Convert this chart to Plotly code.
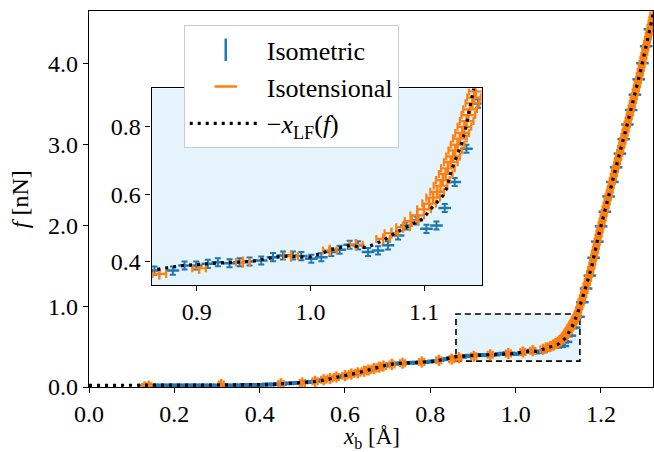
import plotly.graph_objects as go

# ---------------- data ----------------
# Isometric: controlled extension x_b [Å], measured force f [nN]
iso_x = [0.131, 0.140, 0.149, 0.157, 0.166, 0.175, 0.184, 0.193, 0.201, 0.210,
         0.219, 0.228, 0.237, 0.245, 0.254, 0.263, 0.272, 0.281, 0.289, 0.298,
         0.307, 0.316, 0.325, 0.333, 0.342, 0.351, 0.360, 0.369, 0.377, 0.386,
         0.395, 0.404, 0.413, 0.421, 0.430, 0.439, 0.448, 0.457, 0.465, 0.474,
         0.483, 0.492, 0.501, 0.509, 0.518, 0.527, 0.536, 0.545, 0.553, 0.562,
         0.571, 0.580, 0.589, 0.597, 0.606, 0.615, 0.624, 0.633, 0.641, 0.650,
         0.659, 0.668, 0.677, 0.685, 0.694, 0.703, 0.712, 0.721, 0.729, 0.738,
         0.747, 0.756, 0.765, 0.773, 0.782, 0.791, 0.800, 0.809, 0.817, 0.826,
         0.835, 0.844, 0.853,
         0.8627, 0.8789, 0.8892, 0.8995, 0.9097, 0.9185, 0.9288, 0.9376, 0.9464,
         0.9567, 0.9670, 0.9758, 0.9846, 0.9920, 1.0008, 1.0096, 1.0184, 1.0257,
         1.0345, 1.0419, 1.0507, 1.0595, 1.0683, 1.0771, 1.0845, 1.0933, 1.1021,
         1.1109, 1.1182, 1.1270, 1.1373, 1.1476,
         1.1564, 1.1652, 1.1740, 1.1828, 1.1916, 1.2004, 1.2092, 1.2180, 1.2268,
         1.2356, 1.2444, 1.2532, 1.2620, 1.2708, 1.2796, 1.2884, 1.2972, 1.3060,
         1.3148]
iso_f = [0.020, 0.020, 0.020, 0.020, 0.020, 0.020, 0.020, 0.020, 0.020, 0.020,
         0.020, 0.020, 0.020, 0.020, 0.020, 0.020, 0.020, 0.020, 0.020, 0.020,
         0.020, 0.020, 0.020, 0.020, 0.020, 0.020, 0.025, 0.025, 0.025, 0.025,
         0.025, 0.025, 0.030, 0.030, 0.030, 0.035, 0.040, 0.040, 0.045, 0.045,
         0.050, 0.050, 0.055, 0.058, 0.062, 0.068, 0.075, 0.082, 0.090, 0.100,
         0.110, 0.120, 0.130, 0.140, 0.150, 0.160, 0.170, 0.180, 0.190, 0.205,
         0.215, 0.230, 0.245, 0.255, 0.265, 0.275, 0.285, 0.290, 0.292, 0.295,
         0.297, 0.300, 0.300, 0.303, 0.305, 0.310, 0.315, 0.320, 0.325, 0.335,
         0.345, 0.355, 0.365,
         0.373, 0.373, 0.388, 0.388, 0.393, 0.398, 0.395, 0.398, 0.400,
         0.403, 0.413, 0.418, 0.418, 0.416, 0.408, 0.413, 0.428, 0.435,
         0.450, 0.448, 0.428, 0.433, 0.448, 0.477, 0.507, 0.522, 0.497,
         0.507, 0.559, 0.636, 0.735, 0.869,
         1.05, 1.22, 1.38, 1.60, 1.80, 1.99, 2.17, 2.36, 2.54,
         2.72, 2.89, 3.07, 3.25, 3.43, 3.62, 3.81, 4.01, 4.22,
         4.43]
iso_ferr = 0.012

# Isotensional: controlled force f [nN], measured extension x_b [Å]
tens_f = [0.000, 0.010, 0.030, 0.040, 0.050, 0.070, 0.090, 0.105, 0.125, 0.140,
          0.160, 0.175, 0.195, 0.210, 0.230, 0.245, 0.260, 0.280, 0.295, 0.310,
          0.330, 0.345,
          0.363, 0.380, 0.398, 0.416, 0.433, 0.450, 0.467, 0.484, 0.502, 0.520,
          0.537, 0.555, 0.572, 0.590, 0.607, 0.625, 0.642, 0.660, 0.677, 0.695,
          0.712, 0.730, 0.747, 0.765, 0.782, 0.800, 0.817, 0.835, 0.852, 0.870,
          0.887, 0.905,
          0.95, 1.00, 1.05, 1.10, 1.15, 1.20, 1.25, 1.30, 1.35, 1.40, 1.45, 1.50,
          1.55, 1.60, 1.65, 1.70, 1.75, 1.80, 1.85, 1.90, 1.95, 2.00, 2.05, 2.10,
          2.15, 2.20, 2.25, 2.30, 2.35, 2.40, 2.45, 2.50, 2.55, 2.60, 2.65, 2.70,
          2.75, 2.80, 2.85, 2.90, 2.95, 3.00, 3.05, 3.10, 3.15, 3.20, 3.25, 3.30,
          3.35, 3.40, 3.45, 3.50, 3.55, 3.60, 3.65, 3.70, 3.75, 3.80, 3.85, 3.90,
          3.95, 4.00, 4.05, 4.10, 4.15, 4.20, 4.25, 4.30, 4.35, 4.40, 4.45, 4.50,
          4.55, 4.60]
tens_x = [0.130, 0.140, 0.310, 0.450, 0.500, 0.530, 0.550, 0.565, 0.580, 0.600,
          0.615, 0.630, 0.645, 0.655, 0.668, 0.680, 0.690, 0.710, 0.735, 0.780,
          0.820, 0.850,
          0.867, 0.902, 0.9405, 0.983, 1.017, 1.040, 1.064, 1.0713, 1.0815, 1.089,
          1.094, 1.100, 1.1045, 1.108, 1.1115, 1.1145, 1.1165, 1.119, 1.121, 1.1235,
          1.1255, 1.1275, 1.1295, 1.1315, 1.1335, 1.1355, 1.1375, 1.139, 1.1405, 1.1425,
          1.144, 1.1455,
          1.1475, 1.1505, 1.1535, 1.1564, 1.1594, 1.1624, 1.1651, 1.1679, 1.1706, 1.1733,
          1.1760, 1.1786, 1.1807, 1.1828, 1.1849, 1.1870, 1.1891, 1.1912, 1.1933, 1.1956,
          1.1979, 1.2003, 1.2027, 1.2050, 1.2074, 1.2098, 1.2122, 1.2145, 1.2169, 1.2193,
          1.2217, 1.2240, 1.2264, 1.2290, 1.2315, 1.2340, 1.2365, 1.2390, 1.2415, 1.2440,
          1.2465, 1.2490, 1.2515, 1.2540, 1.2565, 1.2590, 1.2614, 1.2638, 1.2662, 1.2686,
          1.2709, 1.2733, 1.2757, 1.2781, 1.2804, 1.2828, 1.2851, 1.2875, 1.2899, 1.2922,
          1.2943, 1.2964, 1.2985, 1.3006, 1.3028, 1.3049, 1.3070, 1.3091, 1.3112, 1.3133,
          1.3154, 1.3175, 1.3196, 1.3217]
tens_xerr = 0.006

# -x_LF(f) reference curve
lf_x = [0.000, 0.130, 0.300, 0.420, 0.450, 0.500, 0.525, 0.550, 0.565, 0.580,
        0.604, 0.630, 0.651, 0.670, 0.682, 0.700, 0.721, 0.760, 0.800, 0.820,
        0.840, 0.858, 0.8878, 0.917, 0.9464, 0.9758, 0.9993, 1.017, 1.0346, 1.049,
        1.064, 1.0757, 1.0903, 1.099, 1.105, 1.111, 1.1167, 1.1197, 1.1241, 1.1285,
        1.133, 1.136, 1.140, 1.1447, 1.1624, 1.178, 1.1937, 1.2093, 1.225, 1.2445,
        1.260, 1.2757, 1.2913, 1.307, 1.3225]
lf_f = [0.020, 0.020, 0.025, 0.030, 0.040, 0.050, 0.065, 0.085, 0.100, 0.120,
        0.145, 0.175, 0.205, 0.235, 0.255, 0.275, 0.290, 0.300, 0.315, 0.330,
        0.350, 0.373, 0.388, 0.395, 0.400, 0.416, 0.413, 0.433, 0.448, 0.441,
        0.4625, 0.487, 0.512, 0.527, 0.552, 0.576, 0.596, 0.616, 0.671, 0.710,
        0.750, 0.785, 0.844, 0.904, 1.200, 1.486, 1.860, 2.190, 2.520, 2.910,
        3.220, 3.550, 3.880, 4.250, 4.620]

main_xticks = [0.0, 0.2, 0.4, 0.6, 0.8, 1.0, 1.2]
main_yticks = [0.0, 1.0, 2.0, 3.0, 4.0]
inset_xticks = [0.9, 1.0, 1.1]
inset_yticks = [0.4, 0.6, 0.8]
main_xlim = [0.0, 1.322]
main_ylim = [0.0, 4.656]
inset_xlim = [0.8602, 1.1506]
inset_ylim = [0.331, 0.914]
x_title = "<i>x</i><sub>b</sub> [Å]"
y_title = "<i>f</i> [nN]"

BLUE = "#1f77b4"
ORANGE = "#ff7f0e"
INSET_BG = "#e5f3fd"
FONT = "Liberation Serif"
FS = 24
LFS = 26

fig = go.Figure()

for xa, ya in (("x", "y"), ("x2", "y2")):
    fig.add_trace(go.Scatter(
        x=iso_x, y=iso_f, mode="markers", xaxis=xa, yaxis=ya, showlegend=False,
        marker=dict(symbol="line-ew", size=9, color=BLUE,
                    line=dict(color=BLUE, width=2.5)),
        error_y=dict(type="constant", value=iso_ferr, color=BLUE,
                     thickness=2, width=3)))
    fig.add_trace(go.Scatter(
        x=tens_x, y=tens_f, mode="markers", xaxis=xa, yaxis=ya, showlegend=False,
        marker=dict(symbol="line-ns", size=8, color=ORANGE,
                    line=dict(color=ORANGE, width=2.5)),
        error_x=dict(type="constant", value=tens_xerr, color=ORANGE,
                     thickness=2.2, width=4)))
    fig.add_trace(go.Scatter(
        x=lf_x, y=lf_f, mode="lines", xaxis=xa, yaxis=ya, showlegend=False,
        line=dict(color="black", width=3.2, dash="3px,5px")))

# legend proxies
fig.add_trace(go.Scatter(x=[None], y=[None], mode="markers", name="Isometric",
                         marker=dict(symbol="line-ns", size=16, color=BLUE,
                                     line=dict(color=BLUE, width=2.5))))
fig.add_trace(go.Scatter(x=[None], y=[None], mode="markers", name="Isotensional",
                         marker=dict(symbol="line-ew", size=18, color=ORANGE,
                                     line=dict(color=ORANGE, width=2.5))))
fig.add_trace(go.Scatter(x=[None], y=[None], mode="lines",
                         name="\u2212<i>x</i><sub>LF</sub>(<i>f</i>)",
                         line=dict(color="black", width=3.2, dash="3px,5px")))

axis_common = dict(showline=True, linecolor="black", linewidth=1.3, mirror=True,
                   ticks="outside", ticklen=5, tickwidth=1.2, tickcolor="black",
                   showgrid=False, zeroline=False, tickformat=".1f",
                   tickfont=dict(family=FONT, size=FS, color="black"))

fig.update_layout(
    width=654, height=452,
    margin=dict(l=89, r=1, t=11, b=65, autoexpand=False),
    paper_bgcolor="white", plot_bgcolor="rgba(0,0,0,0)",
    font=dict(family=FONT, size=FS, color="black"),
    xaxis=dict(domain=[0, 1], range=main_xlim, tickvals=main_xticks, **axis_common),
    yaxis=dict(domain=[0, 1], range=main_ylim, tickvals=main_yticks, **axis_common),
    xaxis2=dict(domain=[0.111, 0.696], anchor="y2", range=inset_xlim,
                tickvals=inset_xticks, **axis_common),
    yaxis2=dict(domain=[0.272, 0.794], anchor="x2", range=inset_ylim,
                tickvals=inset_yticks, **axis_common),
    legend=dict(x=0.168, y=0.962, xanchor="left", yanchor="top",
                bgcolor="white", bordercolor="#cccccc", borderwidth=1,
                font=dict(family=FONT, size=LFS), itemwidth=72,
                tracegroupgap=0),
    annotations=[
        dict(text=x_title, xref="paper", yref="paper", x=0.5, y=-0.178,
             xanchor="center", yanchor="bottom", showarrow=False,
             font=dict(family=FONT, size=23)),
        dict(text=y_title, xref="paper", yref="paper", x=-0.122, y=0.5,
             xanchor="center", yanchor="middle", textangle=-90, showarrow=False,
             font=dict(family=FONT, size=FS)),
    ],
    shapes=[
        dict(type="rect", xref="x2 domain", yref="y2 domain", x0=0, x1=1, y0=0, y1=1,
             fillcolor=INSET_BG, line=dict(width=0), layer="below"),
        dict(type="rect", xref="x", yref="y",
             x0=inset_xlim[0], x1=inset_xlim[1], y0=inset_ylim[0] - 0.01, y1=inset_ylim[1] - 0.01,
             fillcolor=INSET_BG, line=dict(color="black", width=1.6, dash="6px,4px"),
             layer="below"),
    ],
)

fig.write_html("out.html")
